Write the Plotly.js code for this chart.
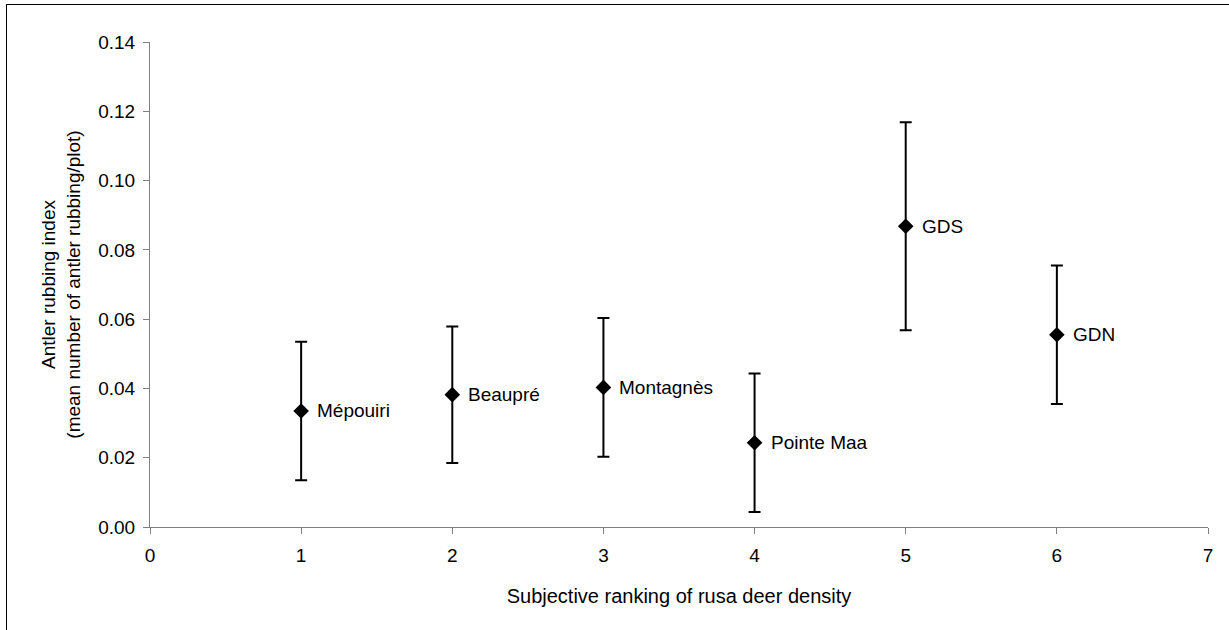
<!DOCTYPE html>
<html>
<head>
<meta charset="utf-8">
<script src="https://cdn.plot.ly/plotly-3.0.1.min.js"></script>
<style>
  html, body { margin: 0; padding: 0; background: #fff; overflow: hidden; }
  #wrap { position: relative; width: 1229px; height: 630px; overflow: hidden; }
  #frame { position: absolute; left: 6px; top: 4px; width: 1223px; height: 626px; border-top: 1.5px solid #000; border-left: 1.5px solid #000; box-sizing: border-box; pointer-events: none; }
  #chart { position: absolute; left: 0; top: 0; width: 1229px; height: 630px; }
</style>
</head>
<body>
<div id="wrap">
<div id="chart"></div>
<div id="frame"></div>
</div>
<script>
const ranks = [1, 2, 3, 4, 5, 6];
const sites = ["Mépouiri", "Beaupré", "Montagnès", "Pointe Maa", "GDS", "GDN"];
const meanIndex = [0.0335, 0.0382, 0.0403, 0.0243, 0.0868, 0.0555];
const errorVals = [0.020, 0.0197, 0.020, 0.020, 0.030, 0.020];
const yTickVals = [0, 0.02, 0.04, 0.06, 0.08, 0.10, 0.12, 0.14];
const xTickVals = [0, 1, 2, 3, 4, 5, 6, 7];

const FONT = '"Liberation Sans", Arial, sans-serif';

const trace = {
  x: ranks,
  y: meanIndex,
  type: 'scatter',
  mode: 'markers',
  marker: { symbol: 'diamond', size: 12, color: '#000' },
  error_y: { type: 'data', array: errorVals, visible: true, color: '#000', thickness: 2, width: 6 },
  hoverinfo: 'x+y'
};

const annotations = sites.map((s, i) => ({
  x: ranks[i], y: meanIndex[i], xref: 'x', yref: 'y',
  text: s, showarrow: false, xanchor: 'left', yanchor: 'middle',
  xshift: 14, font: { family: FONT, size: 19, color: '#000' }
}));

const layout = {
  width: 1229, height: 630,
  margin: { l: 150, r: 21, t: 42, b: 103 },
  paper_bgcolor: 'rgba(0,0,0,0)', plot_bgcolor: 'rgba(0,0,0,0)',
  showlegend: false,
  font: { family: FONT, size: 19, color: '#000' },
  xaxis: {
    range: [0, 7], tickvals: xTickVals, ticktext: xTickVals.map(String),
    showgrid: false, zeroline: false, showline: true, linecolor: '#808080', linewidth: 1,
    ticks: 'outside', ticklen: 6, tickcolor: '#808080', tickwidth: 1,
    ticklabelstandoff: 5,
    tickfont: { family: FONT, size: 19, color: '#000' },
    title: { text: 'Subjective ranking of rusa deer density', font: { family: FONT, size: 20, color: '#000' }, standoff: 24 }
  },
  yaxis: {
    range: [0, 0.14], tickvals: yTickVals, tickformat: '.2f',
    showgrid: false, zeroline: false, showline: true, linecolor: '#808080', linewidth: 1,
    ticks: 'outside', ticklen: 6, tickcolor: '#808080', tickwidth: 1,
    ticklabelstandoff: 4,
    tickfont: { family: FONT, size: 19, color: '#000' },
    title: { text: 'Antler rubbing index<br>(mean number of antler rubbing/plot)', font: { family: FONT, size: 19, color: '#000' }, standoff: 12 }
  },
  annotations: annotations
};

Plotly.newPlot('chart', [trace], layout, { displayModeBar: false, staticPlot: true });
</script>
</body>
</html>
